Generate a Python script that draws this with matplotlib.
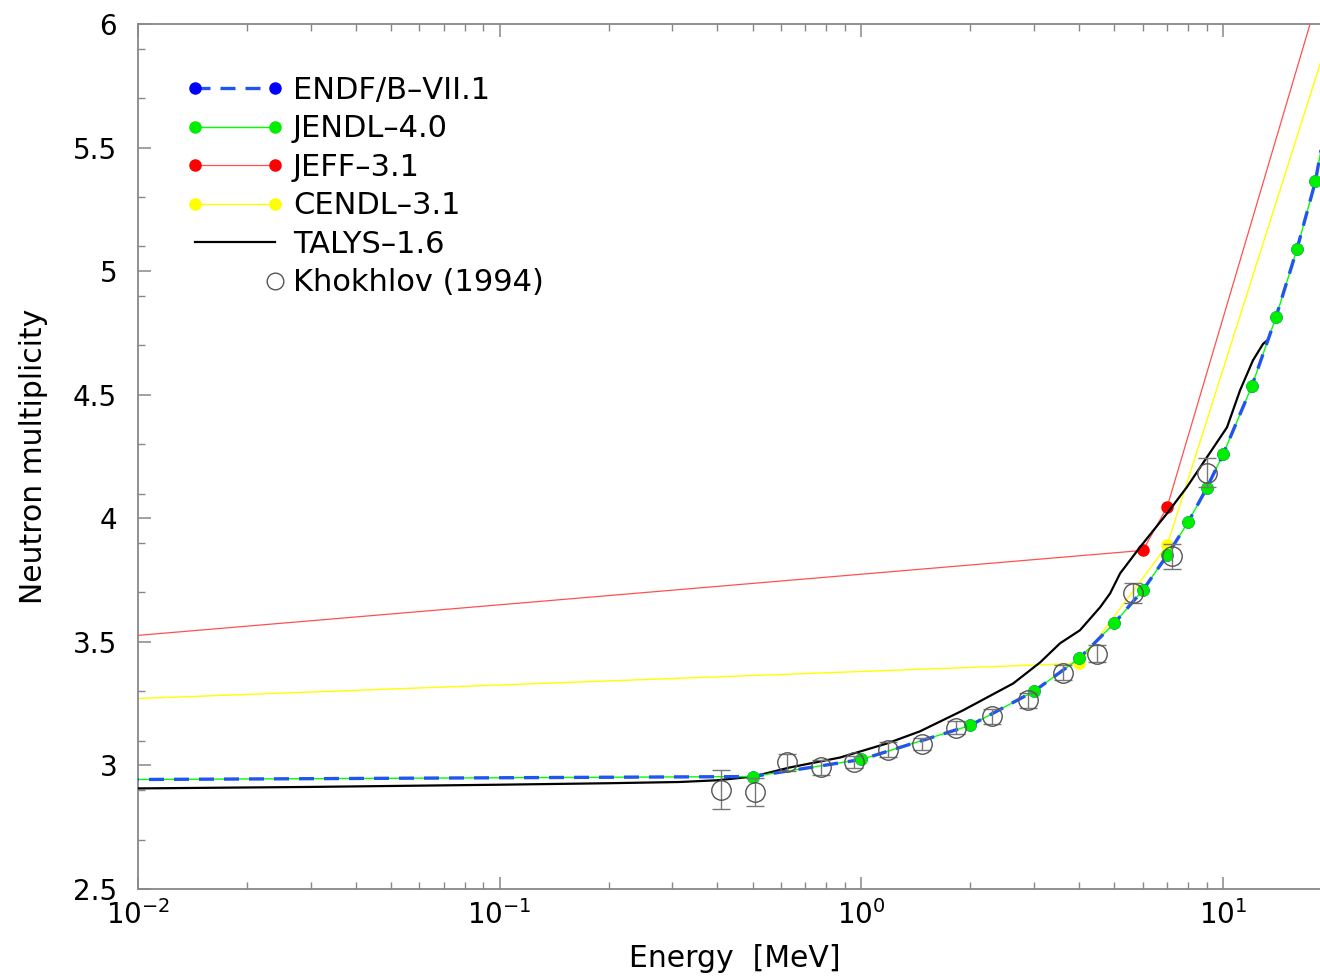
import numpy as np
import matplotlib
matplotlib.use('Agg')
import matplotlib.pyplot as plt
from matplotlib.lines import Line2D
from matplotlib.legend_handler import HandlerLine2D
from matplotlib.ticker import FixedLocator, LogLocator, NullFormatter

plt.rcParams['font.family'] = ['DejaVu Sans']
plt.rcParams['mathtext.default'] = 'regular'

# evaluated data (energy in MeV, neutron multiplicity)
endf_e = [1e-5, 0.5, 1, 2, 3, 4, 5, 6, 7, 8, 9, 10, 12, 14, 16, 18, 20]
endf_nu = [2.922, 2.955, 3.024, 3.162, 3.300, 3.433, 3.575, 3.709, 3.850, 3.984,
           4.121, 4.259, 4.534, 4.814, 5.089, 5.364, 5.74]

jendl_e = [1e-5, 0.5, 1, 2, 3, 4, 5, 6, 7, 8, 9, 10, 12, 14, 16, 18, 20]
jendl_nu = [2.922, 2.955, 3.024, 3.162, 3.300, 3.433, 3.575, 3.709, 3.850, 3.984,
            4.121, 4.259, 4.534, 4.814, 5.089, 5.364, 5.74]

jeff_e = [1e-5, 6, 7, 20]
jeff_nu = [3.155, 3.870, 4.045, 6.30]

cendl_e = [1e-5, 4, 7, 20]
cendl_nu = [3.107, 3.413, 3.89, 5.99]

talys_e = [0.01, 0.03, 0.1, 0.2, 0.315, 0.4, 0.502, 0.635, 0.873, 1.177, 1.452,
           1.91, 2.63, 3.12, 3.54, 4.02, 4.57, 4.87, 5.19, 5.89, 7.0, 7.94, 9.02,
           10.25, 11.14, 12.1, 12.9, 13.2]
talys_nu = [2.907, 2.913, 2.922, 2.928, 2.933, 2.940, 2.955, 2.992, 3.032, 3.089,
            3.138, 3.223, 3.332, 3.417, 3.494, 3.547, 3.640, 3.696, 3.777, 3.883,
            4.020, 4.126, 4.247, 4.368, 4.518, 4.640, 4.706, 4.718]

# Khokhlov (1994)
exp_e = [0.408, 0.508, 0.624, 0.772, 0.954, 1.187, 1.468, 1.826, 2.29, 2.89,
         3.60, 4.47, 5.65, 7.21, 9.01]
exp_nu = [2.902, 2.892, 3.013, 2.993, 3.013, 3.064, 3.088, 3.153, 3.198, 3.263,
          3.375, 3.452, 3.699, 3.846, 4.185]
exp_err = [0.078, 0.057, 0.034, 0.030, 0.025, 0.030, 0.025, 0.025, 0.030, 0.030,
           0.030, 0.035, 0.040, 0.050, 0.060]


class RightMarkerHandler(HandlerLine2D):
    # only keep the marker on the right end of the legend handle
    def create_artists(self, *args, **kwargs):
        arts = super().create_artists(*args, **kwargs)
        for a in arts:
            a.set_markevery([1])
        return arts


fig = plt.figure(figsize=(13.2, 9.77), dpi=100)
ax = fig.add_axes([138 / 1320, 88 / 977, 1194 / 1320, 865 / 977])

ax.plot(cendl_e, cendl_nu, color='#ffff00', lw=1.0, marker='o', ms=8,
        mfc='#ffff00', mec='#ffff00', zorder=2)
ax.plot(jeff_e, jeff_nu, color='#ff5050', lw=0.9, marker='o', ms=8,
        mfc='red', mec='red', zorder=2)
ax.plot(talys_e, talys_nu, color='black', lw=1.6, zorder=3)
ax.plot(jendl_e, jendl_nu, color='#00ff00', lw=1.0, zorder=3)
ax.plot(endf_e, endf_nu, color='#2255ee', lw=2.4, ls=(0, (4.5, 3)), marker='o',
        ms=8, mfc='blue', mec='blue', zorder=4)
ax.plot(jendl_e, jendl_nu, ls='none', marker='o', ms=8, mfc='#00ee00',
        mec='#00ee00', zorder=5)
ax.errorbar(exp_e, exp_nu, yerr=exp_err, fmt='o', ms=14, mfc='none', mec='#555555',
            mew=1.0, ecolor='#777777', elinewidth=1.0, capsize=6.5, capthick=1.0,
            zorder=6)

ax.set_xscale('log')
ax.set_xlim(1e-2, 20)
ax.set_ylim(2.5, 6)
ax.yaxis.set_major_locator(FixedLocator(np.arange(2.5, 6.01, 0.5)))
ax.yaxis.set_minor_locator(FixedLocator(np.arange(2.7, 6.0, 0.2)))
ax.yaxis.set_major_formatter(plt.FuncFormatter(lambda v, p: '%g' % v))
ax.xaxis.set_minor_locator(LogLocator(base=10, subs=np.arange(2, 10), numticks=20))
ax.xaxis.set_minor_formatter(NullFormatter())

for s in ax.spines.values():
    s.set_color('#888888')
    s.set_linewidth(1.3)
ax.tick_params(which='both', direction='in', top=True, right=True, colors='#888888',
               labelcolor='black', labelsize=20)
ax.tick_params(which='major', length=9, width=1.1)
ax.tick_params(which='minor', length=5, width=1.0)
ax.tick_params(axis='y', pad=15)
ax.tick_params(axis='x', pad=8)

ax.set_xlabel('Energy  [MeV]', fontsize=21.5, labelpad=10)
ax.set_ylabel('Neutron multiplicity', fontsize=21.5, labelpad=18)

handles = [
    Line2D([], [], color='#2255ee', lw=2.4, ls=(0, (4.5, 3)), marker='o', ms=8,
           mfc='blue', mec='blue'),
    Line2D([], [], color='#00ff00', lw=1.0, marker='o', ms=8, mfc='#00ee00', mec='#00ee00'),
    Line2D([], [], color='#ff5050', lw=0.9, marker='o', ms=8, mfc='red', mec='red'),
    Line2D([], [], color='#ffff00', lw=1.0, marker='o', ms=8, mfc='#ffff00', mec='#ffff00'),
    Line2D([], [], color='black', lw=1.6),
    Line2D([], [], ls='none', marker='o', ms=12, mfc='none', mec='#555555'),
]
labels = ['ENDF/B\u2013VII.1', 'JENDL\u20134.0', 'JEFF\u20133.1', 'CENDL\u20133.1',
          'TALYS\u20131.6', 'Khokhlov (1994)']
ax.legend(handles, labels, loc='upper left', bbox_to_anchor=(0.040, 0.94),
          frameon=False, fontsize=22, numpoints=2, handlelength=3.23,
          handletextpad=0.28, labelspacing=0.31, borderaxespad=0, borderpad=0,
          handler_map={handles[5]: RightMarkerHandler()})

fig.savefig('out.png', dpi=100)
